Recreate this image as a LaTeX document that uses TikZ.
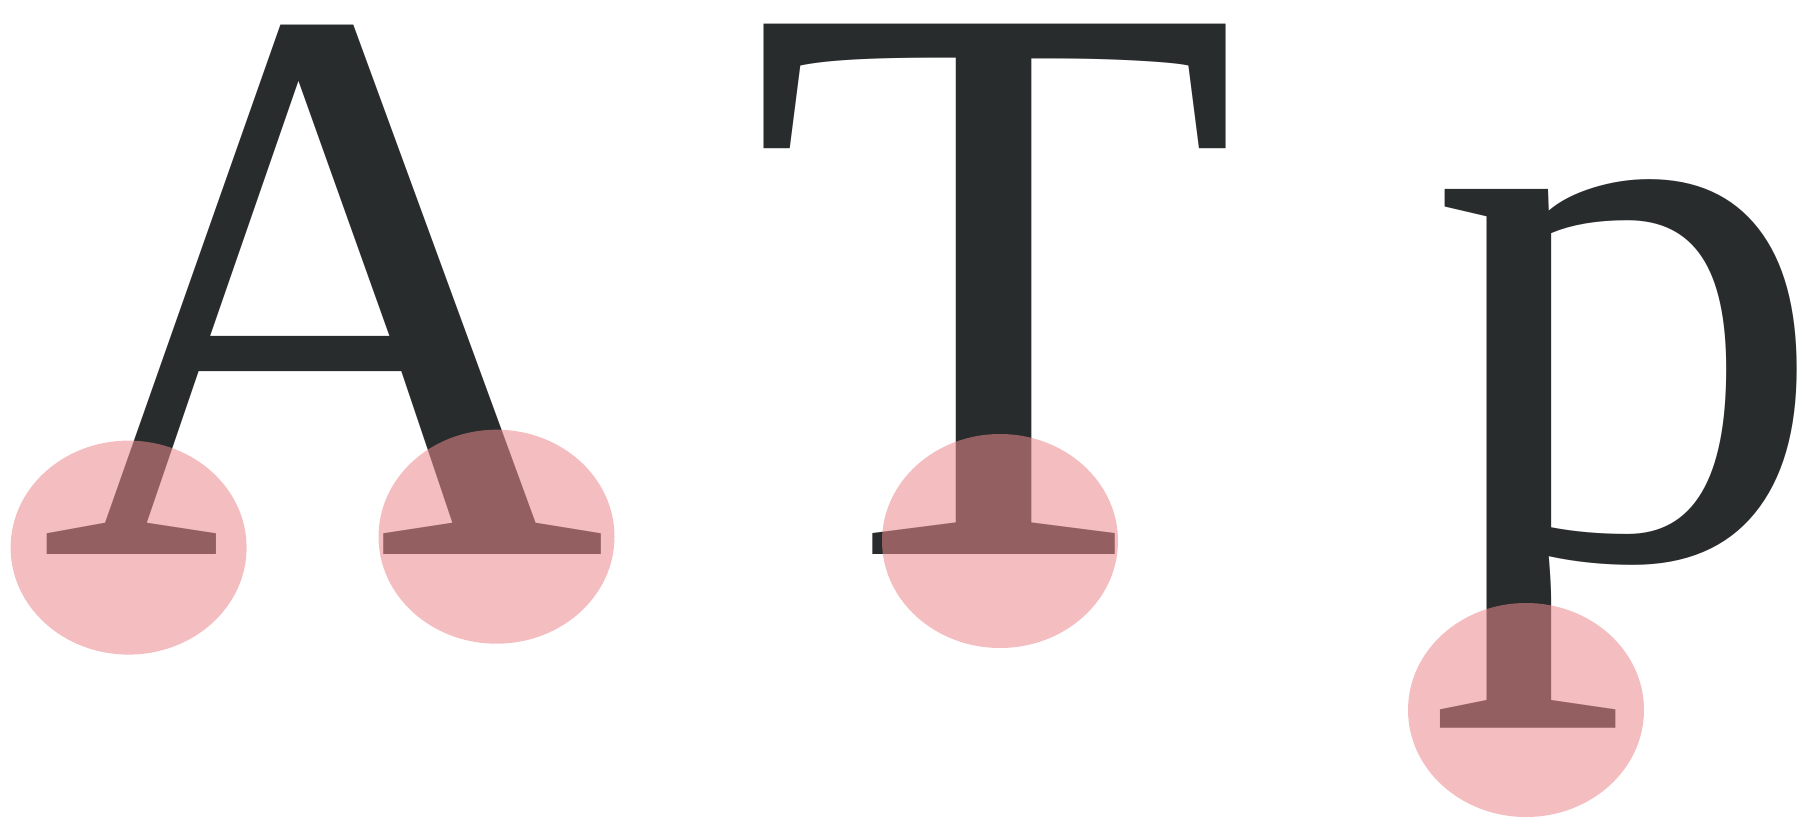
\documentclass[tikz,border=0pt]{standalone}
\usepackage{fontspec}
\setmainfont{Liberation Serif}
\definecolor{ink}{RGB}{41,44,45}
\definecolor{serifpink}{RGB}{235,137,140}
\tikzset{
  letter/.style={inner sep=0pt, outer sep=0pt, text=ink, font=\fontsize{80.2}{80.2}\selectfont, scale=10, transform shape},
  serifmark/.style={fill=serifpink, fill opacity=0.55, draw=none}
}
\begin{document}
\begin{tikzpicture}[x=1pt,y=-1pt]
\useasboundingbox (0,0) rectangle (1800,819);
\clip (0,0) rectangle (1800,819);
\node[letter, anchor=base, xscale=0.98] (A) at (323,554) {A};
\node[letter, anchor=base, yscale=1.01] (T) at (994.5,554) {T};
\node[letter, anchor=base west] (P) at (1427,557) {p};
\path[serifmark] (128.6,547.6) ellipse [x radius=118, y radius=107];
\path[serifmark] (496.5,536.7) ellipse [x radius=118, y radius=107];
\path[serifmark] (1000,541) ellipse [x radius=118, y radius=107];
\path[serifmark] (1526,710) ellipse [x radius=118, y radius=107];
\end{tikzpicture}
\end{document}
